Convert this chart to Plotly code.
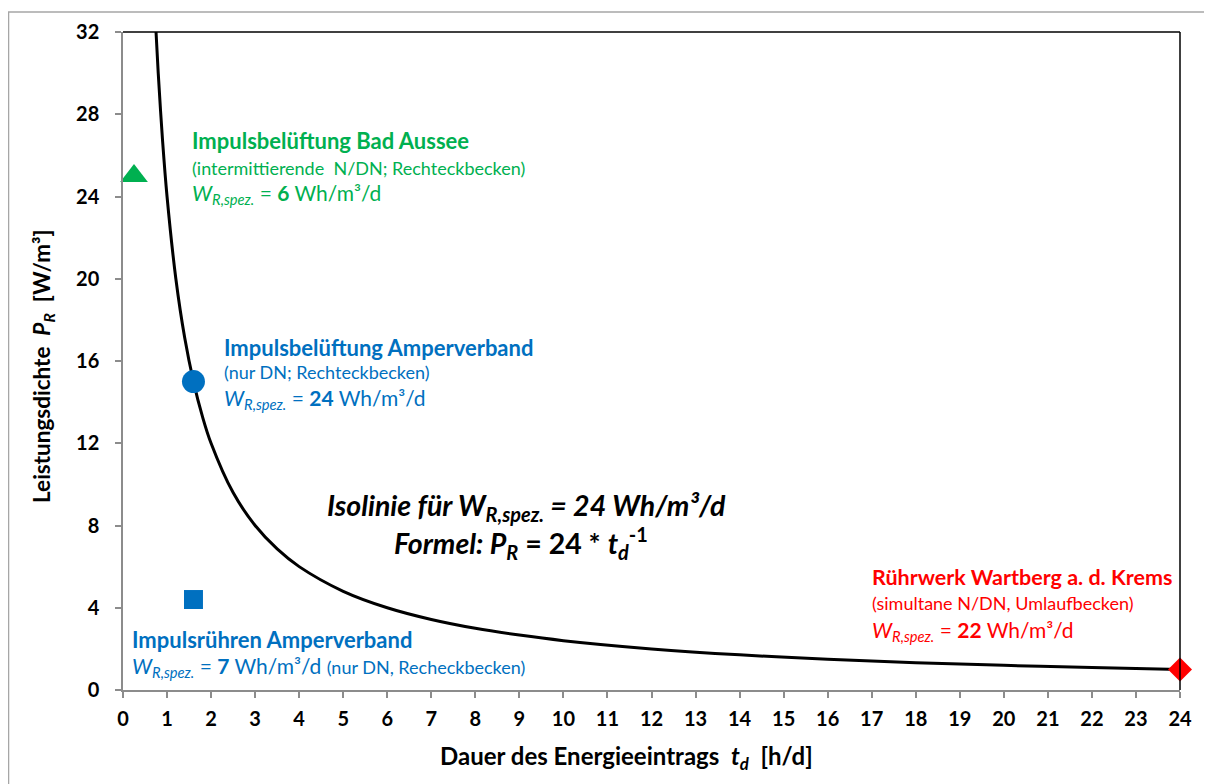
import plotly.graph_objects as go

# ---- data ----
iso_t = [0.75, 0.8, 0.9, 1.0, 1.2, 1.4, 1.6, 1.8, 2.0, 2.5, 3.0, 3.5, 4.0, 5.0, 6.0, 7.0,
         8.0, 9.0, 10.0, 12.0, 14.0, 16.0, 18.0, 20.0, 22.0, 24.0]
iso_p = [32.0, 30.0, 26.67, 24.0, 20.0, 17.14, 15.0, 13.33, 12.0, 9.6, 8.0, 6.86, 6.0, 4.8, 4.0, 3.43,
         3.0, 2.67, 2.4, 2.0, 1.71, 1.5, 1.33, 1.2, 1.09, 1.0]

bad_aussee_t = [0.25]
bad_aussee_p = [25.0]
amper_bel_t = [1.6]
amper_bel_p = [15.0]
amper_ruehr_t = [1.6]
amper_ruehr_p = [4.4]
wartberg_t = [24.0]
wartberg_p = [1.0]

x_ticks = list(range(0, 25))
y_ticks = [0, 4, 8, 12, 16, 20, 24, 28, 32]

GREEN = "#00B050"
BLUE = "#0070C0"
RED = "#FF0000"
FONT = "Lato"

fig = go.Figure()
fig.add_trace(go.Scatter(x=iso_t, y=iso_p, mode="lines",
                         line=dict(color="black", width=3, shape="spline"),
                         showlegend=False, cliponaxis=True))
fig.add_trace(go.Scatter(x=bad_aussee_t, y=bad_aussee_p, mode="markers",
                         marker=dict(symbol="triangle-up", size=24, color=GREEN),
                         showlegend=False, cliponaxis=False))
fig.add_trace(go.Scatter(x=amper_bel_t, y=amper_bel_p, mode="markers",
                         marker=dict(symbol="circle", size=23, color=BLUE),
                         showlegend=False, cliponaxis=False))
fig.add_trace(go.Scatter(x=amper_ruehr_t, y=amper_ruehr_p, mode="markers",
                         marker=dict(symbol="square", size=19, color=BLUE),
                         showlegend=False, cliponaxis=False))
fig.add_trace(go.Scatter(x=wartberg_t, y=wartberg_p, mode="markers",
                         marker=dict(symbol="diamond", size=18.5, color=RED),
                         showlegend=False, cliponaxis=False))

W = "<i>W</i><sub><i>R,spez.</i></sub>"

def ann(x, y, text, color, size, xanchor="left"):
    fig.add_annotation(x=x, y=y, xref="x", yref="y", text=text, showarrow=False,
                       xanchor=xanchor, yanchor="middle",
                       font=dict(family=FONT, size=size, color=color))

# green
ann(1.52, 26.7, "<b>Impulsbelüftung Bad Aussee</b>", GREEN, 22)
ann(1.52, 25.39, "(intermittierende\u00a0 N/DN; Rechteckbecken)", GREEN, 18)
ann(1.52, 24.1, W + " = <b>6</b> Wh/m³/d", GREEN, 21)
# blue 1
ann(2.25, 16.68, "<b>Impulsbelüftung Amperverband</b>", BLUE, 22)
ann(2.25, 15.47, "(nur DN; Rechteckbecken)", BLUE, 18)
ann(2.25, 14.15, W + " = <b>24</b> Wh/m³/d", BLUE, 21)
# blue 2
ann(0.16, 2.48, "<b>Impulsrühren Amperverband</b>", BLUE, 22)
ann(0.16, 1.1, W + " = <b>7</b> Wh/m³/d <span style='font-size:18px'>(nur DN, Recheckbecken)</span>", BLUE, 21)
# red
ann(16.96, 5.5, "<b>Rührwerk Wartberg a. d. Krems</b>", RED, 21.5)
ann(16.96, 4.23, "(simultane N/DN, Umlaufbecken)", RED, 18)
ann(16.96, 2.85, W + " = <b>22</b> Wh/m³/d", RED, 21)
# center
ann(9.17, 8.9, "<b><i>Isolinie für W<sub>R,spez.</sub> = 24 Wh/m³/d</i></b>", "black", 28.5, "center")
ann(9.04, 7.15, "<b><i>Formel: P<sub>R</sub></i> = 24 * <i>t<sub>d</sub></i><sup>-1</sup></b>", "black", 28.5, "center")

# axis titles (as paper annotations to match the reference placement)
fig.add_annotation(x=0.476, y=-0.1033, xref="paper", yref="paper", showarrow=False,
                   xanchor="center", yanchor="middle",
                   text="<b>Dauer des Energieeintrags\u00a0 <i>t<sub>d</sub></i>\u00a0 [h/d]</b>",
                   font=dict(family=FONT, size=24, color="black"))
fig.add_annotation(x=-0.0757, y=0.4924, xref="paper", yref="paper", showarrow=False,
                   xanchor="center", yanchor="middle", textangle=-90,
                   text="<b>Leistungsdichte\u00a0 <i>P<sub>R</sub></i>\u00a0 [W/m³]</b>",
                   font=dict(family=FONT, size=22.5, color="black"))

AXC = "#8C8C8C"
fig.update_xaxes(range=[0, 24], tickvals=x_ticks, ticktext=[str(v) for v in x_ticks],
                 showgrid=False, zeroline=False, showline=True, linecolor=AXC, linewidth=1.5,
                 ticks="outside", ticklen=6, tickcolor=AXC, tickwidth=1.5, ticklabelstandoff=4,
                 tickfont=dict(family=FONT, size=20, color="black", weight="bold"))
fig.update_yaxes(range=[0, 32], tickvals=y_ticks, ticktext=[str(v) for v in y_ticks],
                 showgrid=False, zeroline=False, showline=True, linecolor=AXC, linewidth=1.5,
                 ticks="outside", ticklen=6, tickcolor=AXC, tickwidth=1.5, ticklabelstandoff=12,
                 tickfont=dict(family=FONT, size=20, color="black", weight="bold"))

# plot-area top/right border (black) and outer chart border (gray)
fig.add_shape(type="line", xref="paper", yref="paper", x0=0, x1=1, y0=1, y1=1,
              line=dict(color="black", width=1.5))
fig.add_shape(type="line", xref="paper", yref="paper", x0=1, x1=1, y0=0, y1=1,
              line=dict(color="black", width=1.5))
fig.add_shape(type="rect", xref="paper", yref="paper", x0=-0.1083, x1=1.08, y0=-0.2, y1=1.0304,
              line=dict(color="#A6A6A6", width=1.5), layer="below")

fig.update_layout(width=1204, height=776, margin=dict(l=115, r=32, t=24, b=94),
                  plot_bgcolor="white", paper_bgcolor="white",
                  font=dict(family=FONT))

fig.write_html("out.html")
